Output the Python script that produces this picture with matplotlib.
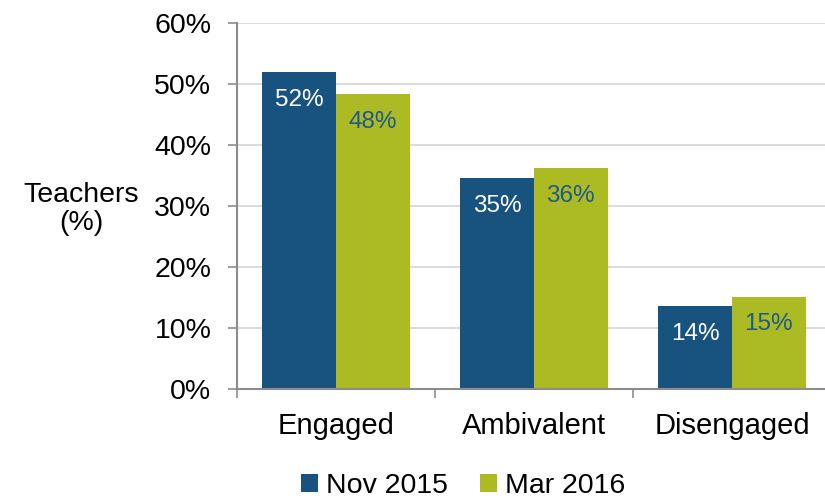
import numpy as np
import matplotlib.pyplot as plt

plt.rcParams['font.family'] = ['Liberation Sans', 'DejaVu Sans']

# data
categories = ['Engaged', 'Ambivalent', 'Disengaged']
nov_2015 = [52.0, 34.6, 13.6]
mar_2016 = [48.4, 36.3, 15.2]
series_names = ['Nov 2015', 'Mar 2016']
y_ticks = [0, 10, 20, 30, 40, 50, 60]

blue = '#18537f'
green = '#acbb24'
axis_grey = '#8c8c8c'

fig = plt.figure(figsize=(8.25, 4.98), dpi=100)
ax = fig.add_axes([0.2873, 0.2183, 0.7127, 0.7349])

x = np.arange(len(categories))
w = 0.372
b1 = ax.bar(x - w / 2, nov_2015, w, color=blue, label=series_names[0], zorder=3)
b2 = ax.bar(x + w / 2, mar_2016, w, color=green, label=series_names[1], zorder=3)

# value labels just under the top of each bar
for rect, v in zip(b1, nov_2015):
    ax.annotate(f'{v:.0f}%', (rect.get_x() + rect.get_width() / 2, v),
                xytext=(0, -20), textcoords='offset points',
                ha='center', va='center', color='white', fontsize=17.5, zorder=4)
for rect, v in zip(b2, mar_2016):
    ax.annotate(f'{v:.0f}%', (rect.get_x() + rect.get_width() / 2, v),
                xytext=(0, -20), textcoords='offset points',
                ha='center', va='center', color='#1f5a8a', fontsize=17.5, zorder=4)

ax.set_ylim(0, 60)
ax.set_xlim(-0.5, 2.47)
ax.set_yticks(y_ticks)
ax.set_yticklabels([f'{t}%' for t in y_ticks], fontsize=20.5)
ax.set_xticks(x)
ax.set_xticklabels(categories, fontsize=21)
ax.set_xticks([-0.5, 0.5, 1.5], minor=True)

ax.tick_params(axis='x', which='major', length=0, pad=16)
ax.tick_params(axis='x', which='minor', length=6.5, width=1.2, color=axis_grey, direction='out')
ax.tick_params(axis='y', length=6.5, width=1.2, color=axis_grey, pad=12)

ax.grid(axis='y', color='#d9d9d9', linewidth=1.3, zorder=0)
for s in ['top', 'right']:
    ax.spines[s].set_visible(False)
for s in ['left', 'bottom']:
    ax.spines[s].set_color(axis_grey)
    ax.spines[s].set_linewidth(1.5)
    ax.spines[s].set_zorder(5)

fig.text(81 / 825, 1 - 209 / 498, 'Teachers\n(%)', ha='center', va='center',
         fontsize=20.5, linespacing=1.1)

fig.legend(handles=[b1, b2], loc='center', bbox_to_anchor=(463 / 825, 0.024),
           ncol=2, frameon=False, fontsize=20.5, handlelength=0.6, handleheight=0.6,
           handletextpad=0.3, columnspacing=1.1, borderpad=0)

fig.savefig('out.png', dpi=100)
